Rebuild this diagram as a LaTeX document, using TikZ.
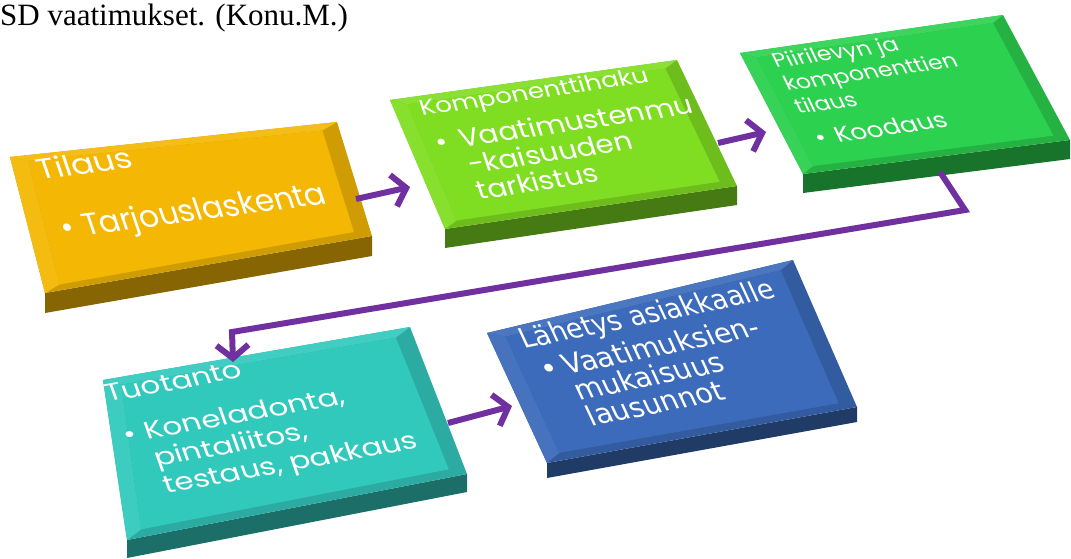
\documentclass[tikz,border=0pt]{standalone}
\usepackage{fontspec}
\setmainfont{Liberation Serif}
\newfontfamily\gfont{Poppins}
\newfontfamily\vfont{DejaVu Sans}
\usetikzlibrary{calc,arrows.meta}
\definecolor{cOr}{HTML}{F3B704}
\definecolor{cLime}{HTML}{80DE22}
\definecolor{cGr}{HTML}{2CD14F}
\definecolor{cTeal}{HTML}{32C9BD}
\definecolor{cBlue}{HTML}{3C6BBB}
\definecolor{cPur}{HTML}{7030A0}
% #1 name, #2 colour, #3 TL, #4 TR, #5 BR, #6 BL, #7 thickness
\newcommand\slab[7]{%
  \coordinate (#1tl) at #3;
  \coordinate (#1tr) at #4;
  \coordinate (#1br) at #5;
  \coordinate (#1bl) at #6;
  \coordinate (#1itl) at ($(#1tl)!0.05!(#1br)$);
  \coordinate (#1ibr) at ($(#1br)!0.05!(#1tl)$);
  \coordinate (#1itr) at ($(#1tr)!0.05!(#1bl)$);
  \coordinate (#1ibl) at ($(#1bl)!0.05!(#1tr)$);
  \fill[#2!55!black] (#1bl) -- (#1br) -- ($(#1br)+(0,#7)$) -- ($(#1bl)+(0,#7)$) -- cycle;
  \fill[#2!85!black] (#1tl) -- (#1tr) -- (#1br) -- (#1bl) -- cycle;
  \fill[#2!92!white] (#1tl) -- (#1tr) -- (#1itr) -- (#1itl) -- cycle;
  \fill[#2!95!white] (#1tl) -- (#1itl) -- (#1ibl) -- (#1bl) -- cycle;
  \fill[#2] (#1itl) -- (#1itr) -- (#1ibr) -- (#1ibl) -- cycle;
}
% font size + horizontal stretch
\newcommand\fs[2]{\fontsize{#1}{#1}\selectfont\addfontfeature{FakeStretch=#2}}
% one line of a stacked text: baseline distance, content
\newcommand\trow[2]{\baselineskip=#1\hbox{#2}}
% bullet box: width up to text, kern before bullet
\newcommand\bul[2]{\hbox to #1{\kern#2\textbullet\hss}}
\newcommand\stack[1]{\vtop{\lineskiplimit=-\maxdimen\lineskip=0pt #1}}
\tikzset{
  lbl/.style={text=white, anchor=base west, inner sep=0pt},
  flow/.style={draw=cPur, line width=6pt, -{Straight Barb[length=13pt,width=32pt,line width=6pt]}},
}
\begin{document}
\begin{tikzpicture}[x=1pt,y=-1pt]
\useasboundingbox (0,0) rectangle (1071,558);

\node[anchor=base west, inner sep=0pt, font=\fontsize{31}{34}\selectfont] (title) at (0,25) {SD vaatimukset. (Konu.M.)};

% slabs
\slab{a}{cOr}{(10,157)}{(337,122)}{(372,236)}{(45,293)}{20}
\slab{b}{cLime}{(390,100)}{(677,60)}{(737,186)}{(445,229)}{19}
\slab{c}{cGr}{(740,53)}{(1003,15)}{(1070,140)}{(803,174)}{19}
\slab{d}{cTeal}{(103,380)}{(410,327)}{(467,474)}{(127,540)}{18}
\slab{e}{cBlue}{(487,333)}{(793,260)}{(857,407)}{(547,463)}{15}

% texts
\node[lbl, rotate=7.5, xslant=-0.2, font=\gfont] (ta) at (40,180) {\stack{%
  \trow{0pt}{\fs{28.6}{1.165}Tilaus}
  \trow{61pt}{\fs{31}{1.0}\bul{26pt}{4pt}Tarjouslaskenta}}};
\node[lbl, rotate=8.5, xslant=-0.17, font=\gfont] (tb) at (422,116) {\stack{%
  \trow{0pt}{\fs{21.5}{1.2}Komponenttihaku}
  \trow{37.3pt}{\fs{25.8}{1.12}\bul{29pt}{5pt}Vaatimustenmu}
  \trow{27pt}{\fs{25.8}{1.12}\kern29pt -kaisuuden}
  \trow{27pt}{\fs{25.8}{1.12}\kern29pt tarkistus}}};
\node[lbl, rotate=8, xslant=-0.32, font=\gfont] (tc) at (776,68) {\stack{%
  \trow{0pt}{\fs{20}{1.14}Piirilevyn ja}
  \trow{24.3pt}{\fs{20}{1.14}komponenttien}
  \trow{24.3pt}{\fs{20}{1.14}tilaus}
  \trow{33.8pt}{\fs{22}{1.16}\bul{25pt}{5pt}Koodaus}}};
\node[lbl, rotate=10.3, xslant=-0.16, font=\gfont] (td) at (108,402) {\stack{%
  \trow{0pt}{\fs{24.5}{1.25}Tuotanto}
  \trow{44pt}{\fs{24.5}{1.25}\bul{25pt}{4pt}Koneladonta,}
  \trow{28.3pt}{\fs{24.5}{1.25}\kern25pt pintaliitos,}
  \trow{28.3pt}{\fs{24.5}{1.25}\kern25pt testaus, pakkaus}}};
\node[lbl, rotate=11.5, xslant=-0.24, font=\vfont] (te) at (524,349) {\stack{%
  \trow{0pt}{\fs{28}{0.94}Lähetys asiakkaalle}
  \trow{34pt}{\fs{28}{1.0}\bul{29pt}{7pt}Vaatimuksien-}
  \trow{27.7pt}{\fs{28}{1.0}\kern29pt mukaisuus}
  \trow{27.7pt}{\fs{28}{1.0}\kern29pt lausunnot}}};

% connector anchors
\coordinate (aout) at (356,199);
\coordinate (bin) at (410,187);
\coordinate (bout) at (718,143);
\coordinate (cin) at (766,132);
\coordinate (cout) at (940,172);
\coordinate (k1) at (965,210);
\coordinate (k2) at (232,332);
\coordinate (din) at (233,362);
\coordinate (dout) at (448,423);
\coordinate (ein) at (512,406);

\draw[flow] (aout) -- (bin);
\draw[flow] (bout) -- (cin);
\draw[flow, line join=miter] (cout) -- (k1) -- (k2) -- (din);
\draw[flow] (dout) -- (ein);
\end{tikzpicture}
\end{document}
